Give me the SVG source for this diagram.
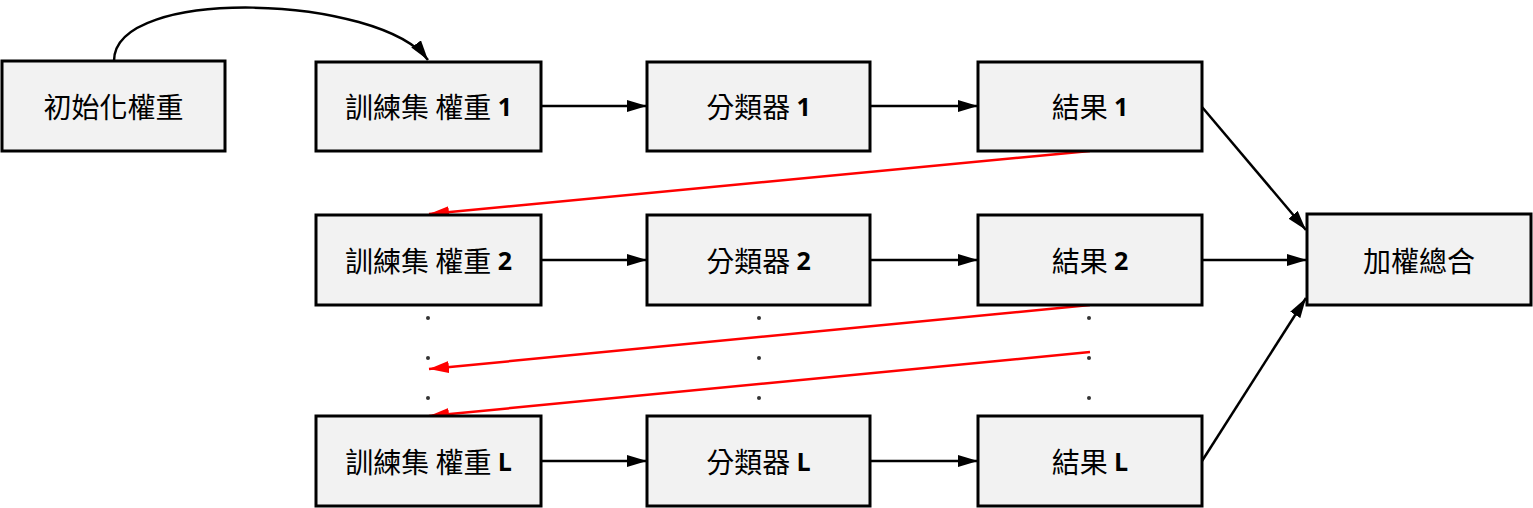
<svg xmlns="http://www.w3.org/2000/svg" width="1533" height="508" viewBox="0 0 1533 508">
<style>
.box{fill:#f2f2f2;stroke:#000;stroke-width:3}
.t{font-family:"Noto Sans CJK TC","Noto Sans CJK SC",sans-serif;font-size:28px;fill:#000;text-anchor:middle;dominant-baseline:central}
.n{font-family:"Open Sans","Liberation Sans",sans-serif;font-weight:bold;font-size:25px}
.c{fill:none;stroke:#000;stroke-width:2.5}
.r{fill:none;stroke:#ff0000;stroke-width:2.5}
.dot{fill:#333}
</style>
<defs>
<marker id="ab" viewBox="0 0 20 12" refX="20" refY="6" markerWidth="20" markerHeight="12" markerUnits="userSpaceOnUse" orient="auto"><path d="M0,0 L20,6 L0,12 Z" fill="#000"/></marker>
<marker id="ar" viewBox="0 0 20 12" refX="20" refY="6" markerWidth="20" markerHeight="12" markerUnits="userSpaceOnUse" orient="auto"><path d="M0,0 L20,6 L0,12 Z" fill="#ff0000"/></marker>
</defs>
<rect width="1533" height="508" fill="#fff"/>
<g id="connectors">
<path class="c" d="M114,61 C114,-15 380,-5 428,60" marker-end="url(#ab)"/>
<line class="c" x1="541" y1="106" x2="647" y2="106" marker-end="url(#ab)"/>
<line class="c" x1="870" y1="106" x2="978" y2="106" marker-end="url(#ab)"/>
<line class="c" x1="541" y1="260" x2="647" y2="260" marker-end="url(#ab)"/>
<line class="c" x1="870" y1="260" x2="978" y2="260" marker-end="url(#ab)"/>
<line class="c" x1="541" y1="461" x2="647" y2="461" marker-end="url(#ab)"/>
<line class="c" x1="870" y1="461" x2="978" y2="461" marker-end="url(#ab)"/>
<line class="c" x1="1202" y1="107" x2="1306" y2="230" marker-end="url(#ab)"/>
<line class="c" x1="1202" y1="260" x2="1307" y2="260" marker-end="url(#ab)"/>
<line class="c" x1="1202" y1="461" x2="1306" y2="298" marker-end="url(#ab)"/>
<line class="r" x1="1090" y1="151" x2="429" y2="214" marker-end="url(#ar)"/>
<line class="r" x1="1090" y1="305" x2="429" y2="369" marker-end="url(#ar)"/>
<line class="r" x1="1090" y1="352" x2="429" y2="416" marker-end="url(#ar)"/>
</g>
<g id="dots">
<circle class="dot" cx="428" cy="318" r="2"/><circle class="dot" cx="428" cy="358" r="2"/><circle class="dot" cx="428" cy="398" r="2"/>
<circle class="dot" cx="759" cy="318" r="2"/><circle class="dot" cx="759" cy="358" r="2"/><circle class="dot" cx="759" cy="398" r="2"/>
<circle class="dot" cx="1089" cy="318" r="2"/><circle class="dot" cx="1089" cy="358" r="2"/><circle class="dot" cx="1089" cy="398" r="2"/>
</g>
<g id="init"><rect class="box" x="2" y="61" width="223" height="90"/><text class="t" x="113.5" y="106">初始化權重</text></g>
<g id="train1"><rect class="box" x="316" y="62" width="225" height="89"/><text class="t" x="428.5" y="106">訓練集 權重 <tspan class="n">1</tspan></text></g>
<g id="clf1"><rect class="box" x="647" y="62" width="223" height="89"/><text class="t" x="758.5" y="106">分類器 <tspan class="n">1</tspan></text></g>
<g id="res1"><rect class="box" x="978" y="62" width="224" height="89"/><text class="t" x="1090" y="106">結果 <tspan class="n">1</tspan></text></g>
<g id="train2"><rect class="box" x="316" y="215" width="225" height="90"/><text class="t" x="428.5" y="260">訓練集 權重 <tspan class="n">2</tspan></text></g>
<g id="clf2"><rect class="box" x="647" y="215" width="223" height="90"/><text class="t" x="758.5" y="260">分類器 <tspan class="n">2</tspan></text></g>
<g id="res2"><rect class="box" x="978" y="215" width="224" height="90"/><text class="t" x="1090" y="260">結果 <tspan class="n">2</tspan></text></g>
<g id="sum"><rect class="box" x="1307" y="214" width="224" height="91"/><text class="t" x="1419" y="260">加權總合</text></g>
<g id="trainL"><rect class="box" x="316" y="416" width="225" height="90"/><text class="t" x="428.5" y="461">訓練集 權重 <tspan class="n">L</tspan></text></g>
<g id="clfL"><rect class="box" x="647" y="416" width="223" height="90"/><text class="t" x="758.5" y="461">分類器 <tspan class="n">L</tspan></text></g>
<g id="resL"><rect class="box" x="978" y="416" width="224" height="90"/><text class="t" x="1090" y="461">結果 <tspan class="n">L</tspan></text></g>
</svg>
